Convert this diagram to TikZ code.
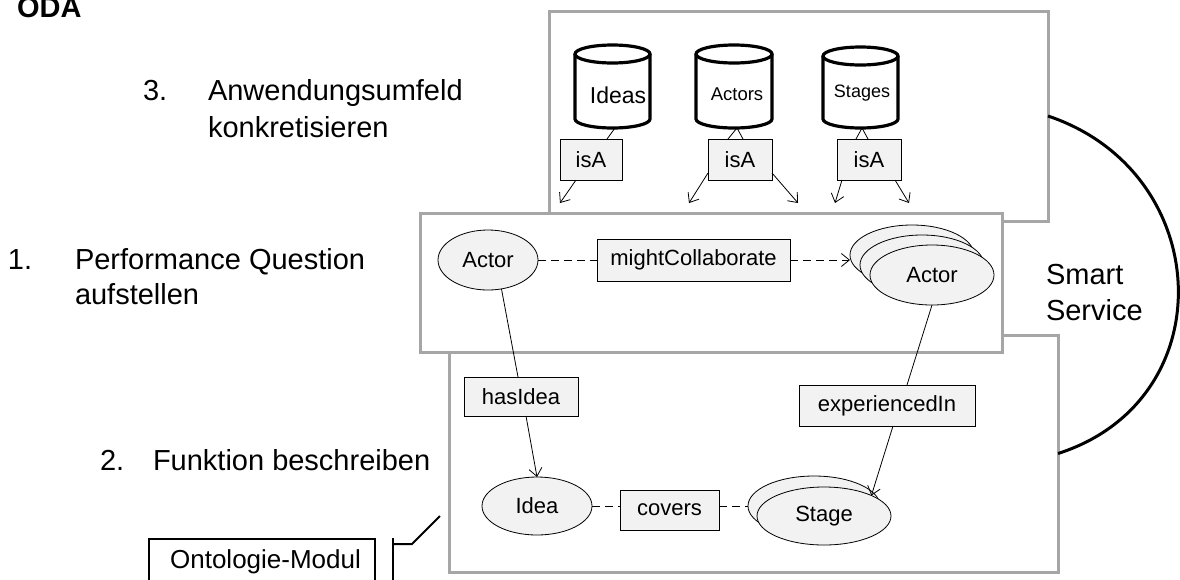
\documentclass[tikz,border=0pt]{standalone}
\usepackage{fontspec}
\setmainfont{Liberation Sans}
\usetikzlibrary{shapes.geometric,arrows.meta}
\definecolor{panelgray}{HTML}{A6A6A6}
\definecolor{nodefill}{HTML}{F2F2F2}
\newcommand\setfs[1]{\fontsize{#1pt}{#1pt}\selectfont}
\newcommand\cylout[2]{%
  \draw[cylline] ([yshift=-9pt]#1.north west) -- ([yshift=9pt]#1.south west)
    arc[start angle=180,end angle=360,x radius=#2pt,y radius=9pt]
    -- ([yshift=-9pt]#1.north east);
  \draw[cylline] ([yshift=-9pt]#1.north) ellipse [x radius=#2pt, y radius=9pt];
}
\begin{document}
\begin{tikzpicture}[x=1pt,y=1pt,
  panel/.style={draw=panelgray, line width=3pt, fill=white, inner sep=0pt, outer sep=0pt},
  rel/.style={draw, fill=nodefill, line width=0.8pt, font=\setfs{22}, inner sep=0pt, outer sep=0pt},
  cls/.style={ellipse, draw, fill=nodefill, line width=0.8pt, font=\setfs{22}, inner sep=0pt, outer sep=0pt},
  cylbox/.style={inner sep=0pt, outer sep=0pt},
  cylline/.style={line width=3.2pt},
  conn/.style={line width=0.8pt},
  arr/.style={-{Straight Barb[length=8pt,width=13pt]}},
  dashline/.style={dash pattern=on 8pt off 5pt},
  lbl/.style={font=\setfs{29}, inner sep=0pt, outer sep=0pt},
]
\useasboundingbox (0,0) rectangle (1180,-579);
\clip (0,0) rectangle (1180,-579);

% left texts
\node[lbl, anchor=base west] (oda) at (17,-17) {\bfseries ODA};
\node[lbl, anchor=base west] (n3) at (143,-100) {3.};
\node[lbl, anchor=base west] (t3a) at (208,-100) {Anwendungsumfeld};
\node[lbl, anchor=base west] (t3b) at (208,-137) {konkretisieren};
\node[lbl, anchor=base west] (n1) at (8,-269) {1.};
\node[lbl, anchor=base west] (t1a) at (75,-269) {Performance Question};
\node[lbl, anchor=base west] (t1b) at (75,-304) {aufstellen};
\node[lbl, anchor=base west] (n2) at (100,-470) {2.};
\node[lbl, anchor=base west] (t2a) at (153,-470) {Funktion beschreiben};

% Ontologie-Modul
\node[draw, line width=2pt, minimum width=226pt, minimum height=60pt, anchor=north, inner sep=0pt] (onto) at (262,-538) {};
\node[font=\setfs{26}, anchor=base, inner sep=0pt] (ontolbl) at (265.5,-568) {Ontologie-Modul};
\draw[line width=2pt] (393,-590) -- (393,-538);
\draw[line width=2pt] (393,-544) -- (412,-544) -- (440,-516);

% panels
\node[panel, minimum width=499pt, minimum height=210pt] (toppanel) at (798.5,-116) {};
\node[panel, minimum width=609pt, minimum height=237pt] (botpanel) at (753.5,-453.5) {};
\node[panel, minimum width=582pt, minimum height=139pt] (midpanel) at (711,-282.5) {};

% smart service
\draw[line width=3pt] (toppanel.east) .. controls (1215,-172) and (1225,-400) .. (botpanel.east);
\node[lbl, anchor=base west] (smart) at (1046,-284) {Smart};
\node[lbl, anchor=base west] (service) at (1046,-320) {Service};

% cylinders
\node[cylbox, minimum width=75pt, minimum height=83pt] (ideas) at (612.5,-86.5) {};
\node[cylbox, minimum width=76pt, minimum height=83pt] (actors) at (734,-86.5) {};
\node[cylbox, minimum width=75pt, minimum height=81pt] (stages) at (860.5,-87.5) {};
\cylout{ideas}{37.5}
\cylout{actors}{38}
\cylout{stages}{37.5}
\node[font=\setfs{23}, anchor=base, inner sep=0pt] (ideaslbl) at (618,-103) {Ideas};
\node[font=\setfs{18.5}, anchor=base, inner sep=0pt] (actorslbl) at (737,-100) {Actors};
\node[font=\setfs{18}, anchor=base, inner sep=0pt] (stageslbl) at (862,-97) {Stages};

% isA boxes
\node[rel, minimum width=62pt, minimum height=41pt] (isa1) at (591,-159.5) {isA};
\node[rel, minimum width=64pt, minimum height=41pt] (isa2) at (740,-159.5) {isA};
\node[rel, minimum width=64pt, minimum height=41pt] (isa3) at (869,-159.5) {isA};
\coordinate (e1) at (560,-203);
\coordinate (e2a) at (689,-203);
\coordinate (e2b) at (798,-203);
\coordinate (e3a) at (835,-203);
\coordinate (e3b) at (909,-203);
\draw[conn] ([xshift=2.5pt]ideas.south) -- ([xshift=16pt]isa1.north);
\draw[conn,arr] ([xshift=-15pt]isa1.south) -- (e1);
\draw[conn] ([xshift=3pt]actors.south) -- ([xshift=-12pt]isa2.north);
\draw[conn] ([xshift=3pt]actors.south) -- ([xshift=3pt]isa2.north);
\draw[conn,arr] ([yshift=7pt]isa2.south west) -- (e2a);
\draw[conn,arr] ([yshift=7pt]isa2.south east) -- (e2b);
\draw[conn] ([xshift=1.5pt]stages.south) -- ([xshift=-13pt]isa3.north);
\draw[conn] ([xshift=1.5pt]stages.south) -- ([xshift=-1pt]isa3.north);
\draw[conn,arr] ([xshift=-27pt]isa3.south) -- (e3a);
\draw[conn,arr] ([xshift=26pt]isa3.south) -- (e3b);

% middle panel
\node[cls, minimum width=100pt, minimum height=60pt] (actor) at (488,-260) {Actor};
\node[rel, minimum width=193pt, minimum height=42pt] (mc) at (693.5,-260) {mightCollaborate};
\node[cls, minimum width=124pt, minimum height=60pt] (actorc) at (912,-255) {};
\node[cls, minimum width=124pt, minimum height=60pt] (actorb) at (922,-265) {};
\node[cls, minimum width=124pt, minimum height=60pt] (actora) at (932,-275) {Actor};
\draw[conn,dashline] (actor.east) -- (mc.west);
\draw[conn,dashline,arr] (mc.east) -- (mc.east -| actorc.west);

% bottom panel
\node[rel, minimum width=114pt, minimum height=39pt] (hasidea) at (521,-396.5) {hasIdea};
\node[cls, minimum width=110pt, minimum height=58pt] (idea) at (537,-506) {Idea};
\node[rel, minimum width=99pt, minimum height=40pt] (covers) at (669.5,-510) {covers};
\node[cls, minimum width=132pt, minimum height=60pt] (stageb) at (814,-506) {};
\node[cls, minimum width=134pt, minimum height=58pt] (stage) at (824,-516) {Stage};
\node[rel, minimum width=176pt, minimum height=41pt] (exp) at (887,-405.5) {experiencedIn};

\draw[conn] (actor.-65) -- ([xshift=-3pt]hasidea.north);
\draw[conn,arr] ([xshift=5pt]hasidea.south) -- (idea.north);
\draw[conn] (actora.south) -- ([xshift=20pt]exp.north);
\draw[conn,arr] ([xshift=6pt]exp.south) -- (stage.north east);
\draw[conn,dashline] (idea.east) -- (idea.east -| covers.west);
\draw[conn,dashline] (covers.east |- idea.east) -- (stageb.west);
\end{tikzpicture}
\end{document}
